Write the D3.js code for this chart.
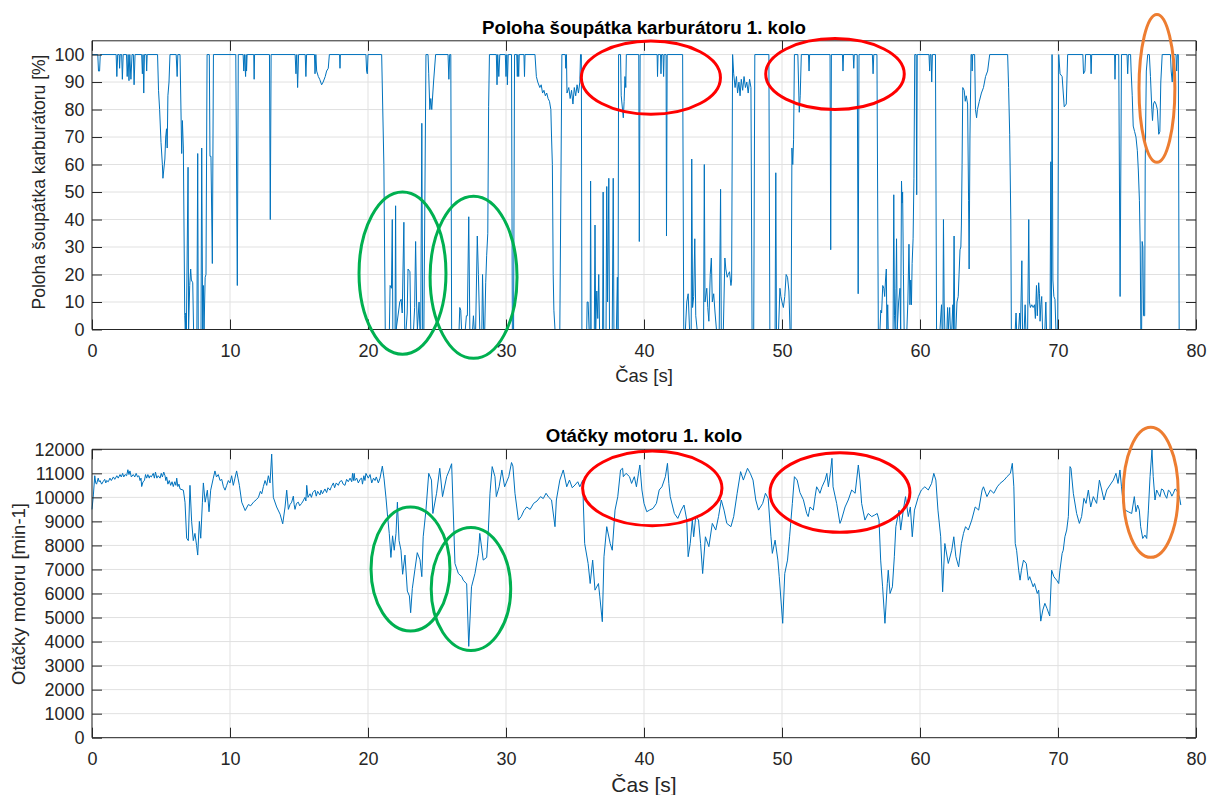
<!DOCTYPE html>
<html>
<head>
<meta charset="utf-8">
<script src="https://cdn.jsdelivr.net/npm/d3@7"></script>
<style>
  body { margin: 0; background: #fff; }
  text { font-family: "Liberation Sans", Arial, Helvetica, sans-serif; fill: #262626; }
</style>
</head>
<body>
<svg id="chart" width="1208" height="795"></svg>
<script>
const timeTicks = [0, 10, 20, 30, 40, 50, 60, 70, 80];
const throttleTicks = [0, 10, 20, 30, 40, 50, 60, 70, 80, 90, 100];
const rpmTicks = [0, 1000, 2000, 3000, 4000, 5000, 6000, 7000, 8000, 9000, 10000, 11000, 12000];

// poloha soupatka [%] - [cas s, hodnota]
const throttle = [
  [0,100],[0.42,100],[0.47,94],[0.55,94],[0.6,100],[1.75,100],[1.8,92],[1.86,100],[1.97,100],[2.0,95],[2.04,100],
  [2.15,100],[2.2,91],[2.26,100],[2.5,100],[2.55,92],[2.62,100],[2.68,90.5],[2.74,100],[2.82,91],[2.9,100],
  [3.0,100],[3.05,89],[3.12,100],[3.6,100],[3.65,93],[3.7,100],[3.75,86],[3.8,100],[3.93,100],[3.96,94],[4.0,100],
  [4.75,100],[4.82,87],[4.9,80],[5.0,68],[5.1,60],[5.14,55],[5.2,58],[5.28,62],[5.34,70],[5.4,73],[5.45,66],[5.5,85],[5.58,90],[5.65,100],
  [6.1,100],[6.17,92],[6.22,100],[6.38,100],[6.5,64],[6.55,76],[6.62,66],[6.72,5],[6.76,0],[6.8,6],[6.84,0],[6.96,59],[7.0,0],
  [7.08,16],[7.15,22],[7.2,18],[7.3,17],[7.36,0],[7.6,0],[7.66,64],[7.7,0],[7.9,0],[7.95,66],[8.02,0],[8.07,16],[8.12,0],
  [8.2,19],[8.26,20],[8.34,100],[8.5,100],[8.55,63],[8.62,63],[8.72,24],[8.8,100],
  [10.42,100],[10.53,16],[10.6,100],[10.95,100],[11.0,94],[11.05,100],[11.13,92],[11.17,100],[11.2,94],[11.24,100],
  [11.72,100],[11.75,91],[11.78,100],[12.86,100],[12.92,40],[12.98,100],
  [14.72,100],[14.78,93],[14.84,100],[14.9,88],[14.97,100],[15.45,100],[15.5,92],[15.55,100],
  [16.12,100],[16.16,93],[16.22,100],[16.28,94],[16.4,92],[16.5,91],[16.64,89],[16.75,90],[16.9,92],[17.0,94],[17.12,95],[17.2,100],
  [17.94,100],[17.97,95],[18.0,100],[19.85,100],[19.9,94],[19.95,93],[20.0,100],
  [20.99,100],[21.15,60],[21.25,0],[21.55,0],[21.6,16],[21.7,15],[21.76,40],[21.8,0],[21.96,0],[22.0,45],[22.04,0],
  [22.2,6],[22.3,10],[22.4,11],[22.48,6],[22.6,39],[22.66,0],[22.76,0],[22.84,6],[22.9,22],[23.04,21],[23.1,0],
  [23.3,0],[23.38,8],[23.45,32],[23.52,10],[23.58,0],[23.7,10],[23.76,0],[23.82,0],[23.9,75],[23.96,0],[24.05,0],
  [24.2,100],[24.35,100],[24.4,93],[24.48,80],[24.55,84],[24.62,80],[24.75,90],[24.9,100],
  [25.8,100],[25.86,91],[25.92,100],[26.0,100],[26.06,0],[26.6,0],[26.65,8],[26.72,7],[26.78,0],[27.05,0],[27.13,5],
  [27.2,5],[27.3,41],[27.38,0],[27.58,0],[27.64,5],[27.7,0],[27.8,0],[27.92,34],[28.0,20],[28.1,0],[28.25,0],
  [28.3,20],[28.38,0],[28.46,0],[28.53,17],[28.6,27],[28.68,35],[28.74,81],[28.8,100],
  [29.3,100],[29.35,89],[29.4,100],[29.48,92],[29.55,100],[29.95,100],[30.0,92],[30.06,100],[30.1,89],[30.16,100],
  [30.4,100],[30.46,0],[30.55,0],[30.62,100],[30.78,100],[30.82,92],[30.86,100],[30.92,92],[30.96,100],[31.3,100],[31.34,92],[31.38,100],
  [32.1,100],[32.2,92],[32.3,90],[32.45,88],[32.55,89],[32.65,86],[32.75,87],[32.85,85],[32.95,86],[33.05,84],[33.15,83],
  [33.25,80],[33.3,70],[33.36,60],[33.42,20],[33.47,7],[33.55,0],[33.9,0],[34.05,100],
  [34.3,100],[34.33,95],[34.38,100],[34.42,86],[34.55,88],[34.65,84],[34.75,87],[34.85,82],[34.95,88],[35.05,85],
  [35.15,89],[35.25,86],[35.35,90],[35.4,100],[35.46,100],[35.5,0],[35.85,0],[35.88,10],[35.95,10],[36.02,0],
  [36.1,0],[36.13,54],[36.17,0],[36.4,0],[36.45,38],[36.5,0],[36.58,14],[36.65,4],[36.72,20],[36.78,0],[37.0,0],
  [37.04,50],[37.08,0],[37.25,0],[37.3,52],[37.36,10],[37.45,55],[37.5,0],[37.7,0],[37.77,55],[37.82,0],[38.0,0],
  [38.07,19],[38.12,0],[38.16,100],[38.3,100],[38.35,85],[38.5,77],[38.56,83],[38.62,92],[38.68,88],[38.72,100],
  [39.62,100],[39.66,32],[39.72,100],[40.95,100],[40.98,92],[41.02,100],[41.2,100],[41.23,93],[41.27,100],
  [41.38,100],[41.42,92],[41.46,100],[41.6,100],[41.63,34],[41.68,100],
  [42.8,100],[42.88,0],[43.0,0],[43.1,10],[43.2,13],[43.3,0],[43.42,0],[43.46,62],[43.52,8],[43.6,12],[43.68,33],
  [43.75,5],[43.85,0],[44.32,0],[44.37,60],[44.42,10],[44.55,15],[44.62,8],[44.7,3],[44.8,20],[44.88,26],[44.95,10],
  [45.05,13],[45.15,6],[45.25,0],[45.45,0],[45.55,51],[45.6,0],[45.75,0],[45.86,26],[45.93,22],[46.03,19],[46.1,20],
  [46.2,21],[46.3,16],[46.35,18],[46.42,100],[46.5,93],[46.6,88],[46.7,92],[46.78,86],[46.88,90],[46.96,85],
  [47.05,91],[47.15,87],[47.25,92],[47.35,88],[47.45,90],[47.55,86],[47.65,91],[47.75,88],[47.83,0],[47.95,0],[48.03,100],
  [49.05,100],[49.12,0],[49.5,0],[49.55,57],[49.6,0],[49.75,0],[49.85,15],[49.92,12],[50.0,10],[50.1,8],[50.2,12],
  [50.3,20],[50.4,19],[50.5,14],[50.58,0],[50.66,0],[50.72,66],[50.78,60],[50.84,69],[50.9,100],
  [51.15,100],[51.25,79],[51.32,85],[51.4,100],[51.92,100],[51.96,94],[52.0,100],[53.48,100],[53.53,29],[53.58,100],
  [54.38,100],[54.42,94],[54.46,100],[55.16,100],[55.2,95],[55.24,100],[55.45,100],[55.52,13],[55.58,100],
  [56.55,100],[56.6,93],[56.65,100],[56.88,100],[56.98,0],[57.1,0],[57.16,7],[57.22,6],[57.3,16],[57.38,15],
  [57.44,12],[57.5,18],[57.56,22],[57.6,0],[57.66,9],[57.7,0],[58.05,0],[58.1,49],[58.15,5],[58.2,0],[58.26,15],
  [58.3,33],[58.35,0],[58.45,10],[58.55,15],[58.6,0],[58.66,54],[58.7,46],[58.74,50],[58.8,20],[58.85,0],[59.05,0],
  [59.12,10],[59.2,31],[59.27,9],[59.33,18],[59.38,9],[59.43,24],[59.5,33],[59.56,55],[59.62,100],[59.72,100],
  [59.76,49],[59.8,100],[60.65,100],[60.7,94],[60.74,100],[60.8,100],[60.85,90],[60.9,100],
  [61.12,100],[61.2,0],[61.45,0],[61.52,6],[61.56,9],[61.6,0],[61.66,0],[61.7,40],[61.75,10],[61.8,0],[61.95,0],
  [62.0,8],[62.05,0],[62.15,8],[62.2,0],[62.3,0],[62.38,9],[62.42,0],[62.47,34],[62.52,0],[62.6,0],[62.68,10],
  [62.77,12],[62.83,20],[62.9,29],[62.96,30],[63.0,38],[63.05,60],[63.1,88],[63.2,87],[63.28,83],[63.35,85],
  [63.45,82],[63.52,47],[63.56,22],[63.62,70],[63.7,100],[63.75,100],[63.78,94],[63.82,100],[63.96,100],[64.02,80],
  [64.1,77],[64.16,80],[64.3,83],[64.45,86],[64.6,88],[64.75,92],[64.9,94],[65.05,100],
  [66.35,100],[66.42,88],[66.5,71],[66.58,40],[66.62,0],[66.9,0],[66.96,6],[67.0,0],[67.15,0],[67.22,6],[67.28,0],
  [67.38,25],[67.43,0],[67.55,0],[67.62,9],[67.67,0],[67.8,0],[67.88,40],[67.93,10],[68.0,8],[68.1,9],[68.2,8],
  [68.3,9],[68.36,4],[68.44,16],[68.5,5],[68.55,11],[68.6,17],[68.66,13],[68.7,3],[68.76,9],[68.82,12],[68.88,0],
  [69.05,0],[69.12,10],[69.17,0],[69.42,0],[69.48,61],[69.52,0],[69.57,100],[69.63,18],[69.7,12],[69.78,11],
  [69.85,0],[69.98,0],[70.05,100],[70.15,93],[70.3,92],[70.45,81],[70.6,82],[70.7,100],
  [71.8,100],[71.85,93],[71.95,94],[72.0,100],[72.36,100],[72.4,93],[72.44,100],[74.1,100],[74.13,91],[74.17,100],
  [74.4,100],[74.5,12],[74.6,100],[75.0,100],[75.05,93],[75.1,100],[75.26,100],[75.3,94],[75.38,85],[75.45,74],
  [75.55,72],[75.65,70],[75.75,65],[75.82,58],[75.9,47],[75.96,30],[76.0,0],[76.06,0],[76.1,32],[76.15,30],
  [76.2,5],[76.28,5],[76.32,60],[76.4,94],[76.5,100],[76.62,100],[76.7,92],[76.8,80],[76.85,76],[76.92,82],
  [77.0,83],[77.1,82],[77.2,80],[77.3,71],[77.38,72],[77.45,90],[77.55,100],[78.15,100],[78.2,94],[78.28,90],
  [78.35,100],[78.55,100],[78.6,94],[78.65,100],[78.72,100],[78.78,0]
];

// otacky motoru [min-1] - [cas s, hodnota]
const rpm = [
  [0,9500],[0.1,10100],[0.2,10900],[0.27,10600],[0.33,10550],[0.45,10800],[0.52,10650],[0.58,10700],[0.7,10550],
  [0.8,10650],[0.92,10750],[1.0,10600],[1.06,10700],[1.18,10650],[1.3,10800],[1.4,10700],[1.55,10850],[1.65,10750],
  [1.8,10900],[1.9,10800],[2.03,10950],[2.12,10850],[2.22,11000],[2.3,10850],[2.4,10950],[2.51,10900],[2.6,11150],
  [2.68,10950],[2.75,11100],[2.85,10850],[2.99,10950],[3.1,10850],[3.2,11000],[3.3,10850],[3.4,10900],[3.48,10700],
  [3.55,10800],[3.6,10450],[3.7,10650],[3.8,10700],[3.88,10950],[3.96,10800],[4.05,10950],[4.15,10800],[4.2,10900],
  [4.3,10850],[4.44,11000],[4.52,10800],[4.6,11050],[4.7,10800],[4.8,10900],[4.93,10800],[5.02,11000],[5.1,10850],
  [5.2,11050],[5.29,10900],[5.35,10700],[5.41,10850],[5.5,10550],[5.6,10700],[5.7,10500],[5.8,10650],[5.89,10450],
  [6.0,10650],[6.08,10500],[6.14,10800],[6.22,10450],[6.3,10550],[6.38,10350],
  [6.62,10300],[6.74,9800],[6.86,8300],[6.98,8200],[7.1,10500],
  [7.22,9000],[7.34,8200],[7.46,8500],[7.58,8000],[7.66,7600],[7.78,9000],[7.88,8300],[8.0,9800],[8.07,10600],
  [8.2,9800],[8.36,10300],[8.48,9400],[8.6,10300],[8.79,10800],[8.91,11100],[9.02,10850],[9.15,10950],[9.28,10700],
  [9.4,10750],[9.52,10450],[9.64,10300],[9.76,10500],[9.88,10700],[10.0,10600],[10.12,10900],[10.24,10500],
  [10.36,10800],[10.48,11100],[10.58,10800],[10.68,10500],[10.85,9800],[11.1,9450],[11.33,9700],
  [11.5,9650],[11.7,9800],[11.9,9900],[12.06,10000],[12.2,10250],[12.3,10150],[12.42,10450],[12.54,10700],[12.66,10500],[12.78,10900],
  [12.9,10600],[13.02,11800],[13.14,10000],[13.38,9600],[13.63,9300],[13.82,8900],[13.99,9600],[14.11,10300],
  [14.23,9500],[14.35,9700],[14.47,9800],[14.59,10050],[14.65,9700],[14.71,9500],[14.82,9750],[14.95,9800],
  [15.05,9650],[15.19,9750],[15.3,9850],[15.43,10000],[15.5,9850],[15.56,10500],[15.65,10000],[15.8,10150],
  [15.9,10000],[16.0,10200],[16.16,10300],[16.25,10050],[16.35,10250],[16.52,10100],[16.6,10300],[16.7,10150],
  [16.88,10350],[17.0,10200],[17.1,10400],[17.25,10300],[17.35,10450],[17.49,10600],[17.58,10400],[17.7,10600],
  [17.85,10500],[17.95,10650],[18.09,10700],[18.2,10550],[18.33,10500],[18.45,10750],[18.57,10650],[18.7,10800],
  [18.82,10650],[18.88,11000],[18.94,10700],[19.0,11000],[19.06,10700],[19.18,10800],[19.3,10600],[19.42,10750],
  [19.54,10800],[19.6,10550],[19.7,10900],[19.78,10700],[19.85,11000],[20.02,10800],[20.15,10950],[20.27,10600],
  [20.4,10800],[20.51,10700],[20.6,10850],[20.75,10600],[20.87,10800],[21.04,11300],[21.16,10800],[21.3,10000],
  [21.42,9200],[21.54,8500],[21.66,7500],[21.78,8400],[21.9,7800],[22.03,8500],[22.13,9800],[22.25,8200],
  [22.39,7800],[22.51,6800],[22.68,7600],[22.85,6100],[23.0,5900],[23.09,5200],[23.21,6200],[23.4,7000],
  [23.57,7700],[23.77,7400],[23.9,6700],[24.0,8360],[24.2,9470],[24.4,11000],[24.6,10720],[24.7,9330],
  [24.97,10170],[25.2,11210],[25.4,10030],[25.7,10860],[25.9,11140],[26.06,11400],[26.2,9055],[26.3,7250],
  [26.55,6830],[26.8,6700],[26.9,6555],[27.15,6400],[27.3,3800],[27.5,6278],[27.75,6830],[28.0,7670],[28.1,8500],
  [28.35,7390],[28.6,7500],[28.7,8360],[28.84,10170],[29.0,11280],[29.2,10860],[29.3,10030],[29.5,10440],
  [29.7,11140],[29.9,10440],[30.2,10860],[30.4,11450],[30.5,11300],[30.65,10170],[30.9,9055],[31.1,9200],
  [31.3,9450],[31.5,9600],[31.75,9500],[32.0,9750],[32.25,9850],[32.5,10030],[32.7,9950],[32.9,10170],[33.1,10000],[33.3,9890],[33.55,8780],[33.65,9890],[33.9,10720],
  [34.15,11140],[34.4,10440],[34.6,10720],[34.8,10400],[35.0,10514],[35.2,10650],[35.35,10440],[35.55,10700],[35.7,8080],[35.95,7250],
  [36.1,6415],[36.28,7390],[36.45,6140],[36.7,6415],[36.8,5860],[36.98,4826],[37.1,7530],[37.3,8780],[37.55,8080],
  [37.7,7800],[37.9,9470],[38.1,10030],[38.3,11140],[38.45,11210],[38.5,10860],[38.7,11000],[38.95,10860],
  [39.1,10580],[39.3,10860],[39.45,10440],[39.6,11000],[39.7,11347],[39.85,10306],[40.0,9750],[40.2,9403],
  [40.4,9470],[40.65,9540],[40.9,9750],[41.1,10306],[41.3,10440],[41.55,10860],[41.7,11416],[41.8,10580],
  [41.9,10030],[42.2,9330],[42.45,9125],[42.7,9470],[42.9,9680],[43.1,9055],[43.2,7530],[43.35,8080],[43.5,9055],
  [43.6,8360],[43.75,9200],[43.95,9055],[44.1,8080],[44.25,6830],[44.45,8360],[44.7,7950],[44.95,8917],
  [45.2,8640],[45.4,9200],[45.6,9890],[45.8,9470],[46.0,8917],[46.3,8780],[46.5,9200],[46.75,10170],[47.0,11070],
  [47.2,10720],[47.5,11210],[47.7,11000],[47.9,10720],[48.1,9890],[48.3,9470],[48.6,9750],[48.8,10170],
  [49.0,9960],[49.2,8360],[49.3,7670],[49.5,8220],[49.7,7390],[49.8,6700],[50.05,4760],[50.2,6830],[50.4,7390],
  [50.55,8360],[50.75,9750],[50.9,10860],[51.1,10720],[51.3,10200],[51.55,9900],[51.79,9330],[51.9,9200],
  [52.03,9600],[52.27,9470],[52.4,10030],[52.51,10440],[52.65,10300],[52.75,10170],[52.9,10440],[53.12,10720],
  [53.25,11000],[53.36,10440],[53.5,11000],[53.62,11625],[53.7,10440],[53.96,9750],[54.2,8917],[54.3,9055],
  [54.57,9600],[54.8,9890],[55.05,10306],[55.3,10170],[55.53,11347],[55.65,10720],[55.77,9750],[56.01,9055],
  [56.25,9330],[56.5,9200],[56.7,9260],[56.9,9330],[57.03,9055],[57.15,7390],[57.29,6278],[57.46,4760],
  [57.63,6415],[57.7,6970],[57.83,6000],[58.0,6278],[58.14,7530],[58.25,8780],[58.48,9470],[58.6,8640],
  [58.79,9470],[58.95,10030],[59.15,9200],[59.3,9600],[59.44,8360],[59.6,9470],[59.88,10030],[60.1,10306],
  [60.35,10440],[60.6,10306],[60.84,10580],[61.0,11000],[61.15,10720],[61.3,9470],[61.5,8360],[61.64,6070],
  [61.8,8080],[62.05,7250],[62.3,7800],[62.45,8360],[62.6,7530],[62.8,7110],[63.0,8080],[63.15,8500],[63.3,8780],
  [63.5,8640],[63.75,9055],[64.0,9600],[64.25,9470],[64.5,10306],[64.6,10440],[64.85,10030],[65.1,10306],
  [65.35,10170],[65.6,10440],[65.8,10580],[66.1,10720],[66.3,10860],[66.55,11000],[66.69,11416],[66.8,10440],
  [66.9,8080],[67.0,7800],[67.15,6970],[67.25,6555],[67.35,6970],[67.5,7390],[67.7,7250],[67.85,6555],
  [67.95,6700],[68.2,6278],[68.3,6415],[68.5,6000],[68.6,6140],[68.75,4850],[68.9,5312],[69.05,5590],[69.2,5380],
  [69.4,5063],[69.54,6970],[69.7,6700],[69.9,6555],[70.05,6415],[70.14,6970],[70.3,7670],[70.38,7800],
  [70.5,8360],[70.63,8640],[70.75,9200],[70.87,11280],[70.94,11210],[71.11,10170],[71.35,9330],[71.55,8917],
  [71.71,9200],[71.88,9960],[72.03,9750],[72.2,10306],[72.37,9600],[72.56,10030],[72.8,9750],[73.0,10720],
  [73.17,10306],[73.33,9890],[73.53,10306],[73.77,10514],[74.01,10720],[74.2,11000],[74.35,10580],[74.49,11140],
  [74.6,10440],[74.73,9750],[74.86,9470],[75.1,9400],[75.34,9330],[75.53,10030],[75.65,9400],[75.77,9680],
  [75.89,9470],[75.99,8780],[76.14,8290],[76.3,8430],[76.43,8290],[76.55,9470],[76.67,10860],[76.81,11972],
  [76.9,10860],[77.03,9890],[77.15,10306],[77.28,10150],[77.39,10030],[77.5,10350],[77.63,10306],[77.75,10100],[77.88,9960],[78.0,10300],[78.12,10240],[78.25,10050],[78.36,10170],
  [78.48,10350],[78.6,10306],[78.7,10150],[78.8,10030],[78.9,9680]
];

// vyznacene oblasti (v jednotkach grafu)
const throttleMarks = [
  {kind: "green", t: 22.5, v: 20.5, rt: 3.15, rv: 29.5},
  {kind: "green", t: 27.65, v: 19, rt: 3.15, rv: 29.5},
  {kind: "red", t: 40.5, v: 91.6, rt: 5.04, rv: 13.3},
  {kind: "red", t: 53.84, v: 92.9, rt: 5.02, rv: 12.9},
  {kind: "orange", t: 77.17, v: 87.7, rt: 1.3, rv: 26.9}
];
const rpmMarks = [
  {kind: "green", t: 23.08, v: 7018, rt: 2.86, rv: 2579},
  {kind: "green", t: 27.46, v: 6186, rt: 2.88, rv: 2558},
  {kind: "red", t: 40.6, v: 10375, rt: 5.05, rv: 1552},
  {kind: "red", t: 54.2, v: 10200, rt: 5.07, rv: 1656},
  {kind: "orange", t: 76.72, v: 10209, rt: 1.99, rv: 2704}
];

const markColor = {green: "#00b050", red: "#ff0000", orange: "#ed7d31"};
const lineColor = "#0072bd";
const axisColor = "#262626";
const gridColor = "#e1e1e1";

const svg = d3.select("#chart");
svg.append("rect").attr("width", 1208).attr("height", 795).attr("fill", "#fff");

function drawPanel(cfg) {
  const x = d3.scaleLinear().domain([0, 80]).range([92, 1196]);
  const y = d3.scaleLinear().domain(cfg.yDomain).range([cfg.bottom, cfg.top]);
  const g = svg.append("g");

  // mrizka
  g.append("g").selectAll("line").data(timeTicks).join("line")
    .attr("x1", d => x(d)).attr("x2", d => x(d))
    .attr("y1", cfg.top).attr("y2", cfg.bottom)
    .attr("stroke", gridColor).attr("stroke-width", 1);
  g.append("g").selectAll("line").data(cfg.yTicks).join("line")
    .attr("x1", 92).attr("x2", 1196)
    .attr("y1", d => y(d)).attr("y2", d => y(d))
    .attr("stroke", gridColor).attr("stroke-width", 1);

  // data
  const line = d3.line().x(d => x(d[0])).y(d => y(d[1]));
  g.append("path").datum(cfg.data)
    .attr("d", line)
    .attr("fill", "none")
    .attr("stroke", lineColor)
    .attr("stroke-width", 1)
    .attr("stroke-linejoin", "round");

  // osy (ticky dovnitr, box)
  const fmt = d3.format("d");
  const axB = g.append("g").attr("transform", `translate(0,${cfg.bottom})`)
    .call(d3.axisBottom(x).tickValues(timeTicks).tickFormat(fmt).tickSizeInner(-10).tickSizeOuter(0).tickPadding(15));
  const axT = g.append("g").attr("transform", `translate(0,${cfg.top})`)
    .call(d3.axisTop(x).tickValues(timeTicks).tickSizeInner(-10).tickSizeOuter(0).tickFormat(""));
  const axL = g.append("g").attr("transform", "translate(92,0)")
    .call(d3.axisLeft(y).tickValues(cfg.yTicks).tickFormat(fmt).tickSizeInner(-10).tickSizeOuter(0).tickPadding(7.5));
  const axR = g.append("g").attr("transform", "translate(1196,0)")
    .call(d3.axisRight(y).tickValues(cfg.yTicks).tickSizeInner(-10).tickSizeOuter(0).tickFormat(""));
  [axB, axT, axL, axR].forEach(a => {
    a.selectAll("path, line").attr("stroke", axisColor).attr("stroke-width", 1);
    a.selectAll("text").attr("fill", axisColor)
      .style("font-size", "18px")
      .style("font-family", "'Liberation Sans', Arial, sans-serif");
  });
  axT.select(".domain").attr("d", `M92,0H1196`);
  axR.select(".domain").attr("d", `M0,${cfg.top}V${cfg.bottom}`);
  axL.select(".domain").attr("d", `M0,${cfg.top}V${cfg.bottom}`);
  axB.select(".domain").attr("d", `M92,0H1196`);

  // popisky
  g.append("text").attr("x", 644).attr("y", cfg.titleY)
    .attr("text-anchor", "middle")
    .style("font-size", "18.7px").style("font-weight", "bold").style("fill", "#000")
    .text(cfg.title);
  g.append("text").attr("x", 644).attr("y", cfg.xLabelY)
    .attr("text-anchor", "middle")
    .style("font-size", cfg.xLabelSize)
    .text("Čas [s]");
  g.append("text")
    .attr("transform", `translate(${cfg.yLabelX},${cfg.yLabelCenter}) rotate(-90)`)
    .attr("text-anchor", "middle")
    .style("font-size", cfg.yLabelSize)
    .text(cfg.yLabel);

  // elipsy
  g.append("g").selectAll("ellipse").data(cfg.marks).join("ellipse")
    .attr("cx", d => x(d.t))
    .attr("cy", d => y(d.v))
    .attr("rx", d => x(d.t + d.rt) - x(d.t))
    .attr("ry", d => y(d.v) - y(d.v + d.rv))
    .attr("fill", "none")
    .attr("stroke", d => markColor[d.kind])
    .attr("stroke-width", 3);
}

drawPanel({
  data: throttle, yDomain: [0, 105], yTicks: throttleTicks,
  top: 40.8, bottom: 329.5,
  title: "Poloha šoupátka karburátoru 1. kolo", titleY: 34.3,
  xLabelY: 381.7, xLabelSize: "18.5px",
  yLabel: "Poloha šoupátka karburátoru [%]", yLabelX: 45, yLabelCenter: 182, yLabelSize: "17.5px",
  marks: throttleMarks
});

drawPanel({
  data: rpm, yDomain: [0, 12000], yTicks: rpmTicks,
  top: 449.3, bottom: 737.7,
  title: "Otáčky motoru 1. kolo", titleY: 442,
  xLabelY: 791.5, xLabelSize: "21px",
  yLabel: "Otáčky motoru [min-1]", yLabelX: 25, yLabelCenter: 594, yLabelSize: "18.5px",
  marks: rpmMarks
});
</script>
</body>
</html>
